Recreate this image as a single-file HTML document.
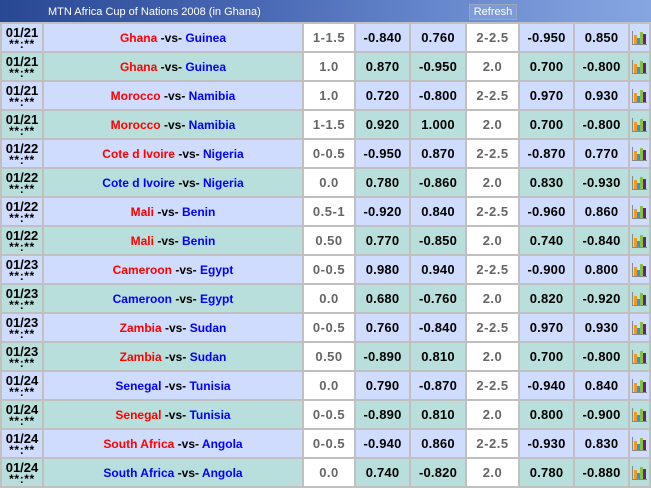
<!DOCTYPE html>
<html><head><meta charset="utf-8">
<style>
*{margin:0;padding:0;box-sizing:border-box}
html,body{width:651px;height:488px;overflow:hidden;background:#fff}
body{font-family:"Liberation Sans",Arial,sans-serif;position:relative}
#hd{position:absolute;left:0;top:0;width:651px;height:22px;background:linear-gradient(to right,#294893 0%,#4a69b5 40%,#6a8ace 70%,#86a6e2 100%)}
#hd .t{position:absolute;left:48px;top:6px;color:#fff;font-size:11px;line-height:13px;white-space:nowrap}
#hd .r{position:absolute;left:469px;top:4px;width:48px;height:16px;border:1px solid #9aa6bd;background:#7d9bd9;color:#fff;font-size:11px;line-height:15px;text-align:center}
table{position:absolute;left:0;top:22px;width:651px;border-collapse:separate;border-spacing:2px;background:#c0c0c0;table-layout:fixed}
td{height:27px;padding:0;text-align:center;vertical-align:middle;white-space:nowrap;overflow:hidden}
tr.a td{background:#cfdcfe}
tr.b td{background:#b9dfdd}
tr td.w{background:#fff;color:#666;font-size:13px;font-weight:bold;letter-spacing:0.5px}
td.d{font-weight:bold;font-size:13px;line-height:12px;color:#000;letter-spacing:0;padding-top:1px}
td.d span{display:block;letter-spacing:0.6px;font-size:12px;line-height:11px}
td.m{font-weight:bold;font-size:12px}
td.n{font-size:13px;color:#000;font-weight:bold;letter-spacing:0.2px}
.R{color:#f00}
.B{color:#00f}
.K{color:#000}
td.i svg{display:block;margin:0 auto}
</style></head><body>
<div id="hd"><div class="t">MTN Africa Cup of Nations 2008 (in Ghana)</div><div class="r">Refresh</div></div>
<table>
<colgroup><col style="width:40px"><col style="width:258px"><col style="width:50px"><col style="width:53px"><col style="width:54px"><col style="width:51px"><col style="width:53px"><col style="width:53px"><col style="width:19px"></colgroup>
<tr class="a"><td class="d">01/21<span>**:**</span></td><td class="m"><span class="R">Ghana</span> <span class="K">-vs-</span> <span class="B">Guinea</span></td><td class="w">1-1.5</td><td class="n R">-0.840</td><td class="n">0.760</td><td class="w">2-2.5</td><td class="n R">-0.950</td><td class="n">0.850</td><td class="i"><svg width="15" height="14"><path d="M0.5 0v13.5H15" stroke="#888" fill="none"/><rect x="2" y="4" width="3" height="9" fill="#f09a1a"/><rect x="5" y="7" width="3" height="6" fill="#3a8ee6"/><rect x="8" y="1" width="3" height="12" fill="#86c23c"/><rect x="11" y="3" width="3" height="10" fill="#6a1f7a"/></svg></td></tr>
<tr class="b"><td class="d">01/21<span>**:**</span></td><td class="m"><span class="R">Ghana</span> <span class="K">-vs-</span> <span class="B">Guinea</span></td><td class="w">1.0</td><td class="n">0.870</td><td class="n R">-0.950</td><td class="w">2.0</td><td class="n">0.700</td><td class="n R">-0.800</td><td class="i"><svg width="15" height="14"><path d="M0.5 0v13.5H15" stroke="#888" fill="none"/><rect x="2" y="4" width="3" height="9" fill="#f09a1a"/><rect x="5" y="7" width="3" height="6" fill="#3a8ee6"/><rect x="8" y="1" width="3" height="12" fill="#86c23c"/><rect x="11" y="3" width="3" height="10" fill="#6a1f7a"/></svg></td></tr>
<tr class="a"><td class="d">01/21<span>**:**</span></td><td class="m"><span class="R">Morocco</span> <span class="K">-vs-</span> <span class="B">Namibia</span></td><td class="w">1.0</td><td class="n">0.720</td><td class="n R">-0.800</td><td class="w">2-2.5</td><td class="n">0.970</td><td class="n">0.930</td><td class="i"><svg width="15" height="14"><path d="M0.5 0v13.5H15" stroke="#888" fill="none"/><rect x="2" y="4" width="3" height="9" fill="#f09a1a"/><rect x="5" y="7" width="3" height="6" fill="#3a8ee6"/><rect x="8" y="1" width="3" height="12" fill="#86c23c"/><rect x="11" y="3" width="3" height="10" fill="#6a1f7a"/></svg></td></tr>
<tr class="b"><td class="d">01/21<span>**:**</span></td><td class="m"><span class="R">Morocco</span> <span class="K">-vs-</span> <span class="B">Namibia</span></td><td class="w">1-1.5</td><td class="n">0.920</td><td class="n">1.000</td><td class="w">2.0</td><td class="n">0.700</td><td class="n R">-0.800</td><td class="i"><svg width="15" height="14"><path d="M0.5 0v13.5H15" stroke="#888" fill="none"/><rect x="2" y="4" width="3" height="9" fill="#f09a1a"/><rect x="5" y="7" width="3" height="6" fill="#3a8ee6"/><rect x="8" y="1" width="3" height="12" fill="#86c23c"/><rect x="11" y="3" width="3" height="10" fill="#6a1f7a"/></svg></td></tr>
<tr class="a"><td class="d">01/22<span>**:**</span></td><td class="m"><span class="R">Cote d Ivoire</span> <span class="K">-vs-</span> <span class="B">Nigeria</span></td><td class="w">0-0.5</td><td class="n R">-0.950</td><td class="n">0.870</td><td class="w">2-2.5</td><td class="n R">-0.870</td><td class="n">0.770</td><td class="i"><svg width="15" height="14"><path d="M0.5 0v13.5H15" stroke="#888" fill="none"/><rect x="2" y="4" width="3" height="9" fill="#f09a1a"/><rect x="5" y="7" width="3" height="6" fill="#3a8ee6"/><rect x="8" y="1" width="3" height="12" fill="#86c23c"/><rect x="11" y="3" width="3" height="10" fill="#6a1f7a"/></svg></td></tr>
<tr class="b"><td class="d">01/22<span>**:**</span></td><td class="m"><span class="B">Cote d Ivoire</span> <span class="K">-vs-</span> <span class="B">Nigeria</span></td><td class="w">0.0</td><td class="n">0.780</td><td class="n R">-0.860</td><td class="w">2.0</td><td class="n">0.830</td><td class="n R">-0.930</td><td class="i"><svg width="15" height="14"><path d="M0.5 0v13.5H15" stroke="#888" fill="none"/><rect x="2" y="4" width="3" height="9" fill="#f09a1a"/><rect x="5" y="7" width="3" height="6" fill="#3a8ee6"/><rect x="8" y="1" width="3" height="12" fill="#86c23c"/><rect x="11" y="3" width="3" height="10" fill="#6a1f7a"/></svg></td></tr>
<tr class="a"><td class="d">01/22<span>**:**</span></td><td class="m"><span class="R">Mali</span> <span class="K">-vs-</span> <span class="B">Benin</span></td><td class="w">0.5-1</td><td class="n R">-0.920</td><td class="n">0.840</td><td class="w">2-2.5</td><td class="n R">-0.960</td><td class="n">0.860</td><td class="i"><svg width="15" height="14"><path d="M0.5 0v13.5H15" stroke="#888" fill="none"/><rect x="2" y="4" width="3" height="9" fill="#f09a1a"/><rect x="5" y="7" width="3" height="6" fill="#3a8ee6"/><rect x="8" y="1" width="3" height="12" fill="#86c23c"/><rect x="11" y="3" width="3" height="10" fill="#6a1f7a"/></svg></td></tr>
<tr class="b"><td class="d">01/22<span>**:**</span></td><td class="m"><span class="R">Mali</span> <span class="K">-vs-</span> <span class="B">Benin</span></td><td class="w">0.50</td><td class="n">0.770</td><td class="n R">-0.850</td><td class="w">2.0</td><td class="n">0.740</td><td class="n R">-0.840</td><td class="i"><svg width="15" height="14"><path d="M0.5 0v13.5H15" stroke="#888" fill="none"/><rect x="2" y="4" width="3" height="9" fill="#f09a1a"/><rect x="5" y="7" width="3" height="6" fill="#3a8ee6"/><rect x="8" y="1" width="3" height="12" fill="#86c23c"/><rect x="11" y="3" width="3" height="10" fill="#6a1f7a"/></svg></td></tr>
<tr class="a"><td class="d">01/23<span>**:**</span></td><td class="m"><span class="R">Cameroon</span> <span class="K">-vs-</span> <span class="B">Egypt</span></td><td class="w">0-0.5</td><td class="n">0.980</td><td class="n">0.940</td><td class="w">2-2.5</td><td class="n R">-0.900</td><td class="n">0.800</td><td class="i"><svg width="15" height="14"><path d="M0.5 0v13.5H15" stroke="#888" fill="none"/><rect x="2" y="4" width="3" height="9" fill="#f09a1a"/><rect x="5" y="7" width="3" height="6" fill="#3a8ee6"/><rect x="8" y="1" width="3" height="12" fill="#86c23c"/><rect x="11" y="3" width="3" height="10" fill="#6a1f7a"/></svg></td></tr>
<tr class="b"><td class="d">01/23<span>**:**</span></td><td class="m"><span class="B">Cameroon</span> <span class="K">-vs-</span> <span class="B">Egypt</span></td><td class="w">0.0</td><td class="n">0.680</td><td class="n R">-0.760</td><td class="w">2.0</td><td class="n">0.820</td><td class="n R">-0.920</td><td class="i"><svg width="15" height="14"><path d="M0.5 0v13.5H15" stroke="#888" fill="none"/><rect x="2" y="4" width="3" height="9" fill="#f09a1a"/><rect x="5" y="7" width="3" height="6" fill="#3a8ee6"/><rect x="8" y="1" width="3" height="12" fill="#86c23c"/><rect x="11" y="3" width="3" height="10" fill="#6a1f7a"/></svg></td></tr>
<tr class="a"><td class="d">01/23<span>**:**</span></td><td class="m"><span class="R">Zambia</span> <span class="K">-vs-</span> <span class="B">Sudan</span></td><td class="w">0-0.5</td><td class="n">0.760</td><td class="n R">-0.840</td><td class="w">2-2.5</td><td class="n">0.970</td><td class="n">0.930</td><td class="i"><svg width="15" height="14"><path d="M0.5 0v13.5H15" stroke="#888" fill="none"/><rect x="2" y="4" width="3" height="9" fill="#f09a1a"/><rect x="5" y="7" width="3" height="6" fill="#3a8ee6"/><rect x="8" y="1" width="3" height="12" fill="#86c23c"/><rect x="11" y="3" width="3" height="10" fill="#6a1f7a"/></svg></td></tr>
<tr class="b"><td class="d">01/23<span>**:**</span></td><td class="m"><span class="R">Zambia</span> <span class="K">-vs-</span> <span class="B">Sudan</span></td><td class="w">0.50</td><td class="n R">-0.890</td><td class="n">0.810</td><td class="w">2.0</td><td class="n">0.700</td><td class="n R">-0.800</td><td class="i"><svg width="15" height="14"><path d="M0.5 0v13.5H15" stroke="#888" fill="none"/><rect x="2" y="4" width="3" height="9" fill="#f09a1a"/><rect x="5" y="7" width="3" height="6" fill="#3a8ee6"/><rect x="8" y="1" width="3" height="12" fill="#86c23c"/><rect x="11" y="3" width="3" height="10" fill="#6a1f7a"/></svg></td></tr>
<tr class="a"><td class="d">01/24<span>**:**</span></td><td class="m"><span class="B">Senegal</span> <span class="K">-vs-</span> <span class="B">Tunisia</span></td><td class="w">0.0</td><td class="n">0.790</td><td class="n R">-0.870</td><td class="w">2-2.5</td><td class="n R">-0.940</td><td class="n">0.840</td><td class="i"><svg width="15" height="14"><path d="M0.5 0v13.5H15" stroke="#888" fill="none"/><rect x="2" y="4" width="3" height="9" fill="#f09a1a"/><rect x="5" y="7" width="3" height="6" fill="#3a8ee6"/><rect x="8" y="1" width="3" height="12" fill="#86c23c"/><rect x="11" y="3" width="3" height="10" fill="#6a1f7a"/></svg></td></tr>
<tr class="b"><td class="d">01/24<span>**:**</span></td><td class="m"><span class="R">Senegal</span> <span class="K">-vs-</span> <span class="B">Tunisia</span></td><td class="w">0-0.5</td><td class="n R">-0.890</td><td class="n">0.810</td><td class="w">2.0</td><td class="n">0.800</td><td class="n R">-0.900</td><td class="i"><svg width="15" height="14"><path d="M0.5 0v13.5H15" stroke="#888" fill="none"/><rect x="2" y="4" width="3" height="9" fill="#f09a1a"/><rect x="5" y="7" width="3" height="6" fill="#3a8ee6"/><rect x="8" y="1" width="3" height="12" fill="#86c23c"/><rect x="11" y="3" width="3" height="10" fill="#6a1f7a"/></svg></td></tr>
<tr class="a"><td class="d">01/24<span>**:**</span></td><td class="m"><span class="R">South Africa</span> <span class="K">-vs-</span> <span class="B">Angola</span></td><td class="w">0-0.5</td><td class="n R">-0.940</td><td class="n">0.860</td><td class="w">2-2.5</td><td class="n R">-0.930</td><td class="n">0.830</td><td class="i"><svg width="15" height="14"><path d="M0.5 0v13.5H15" stroke="#888" fill="none"/><rect x="2" y="4" width="3" height="9" fill="#f09a1a"/><rect x="5" y="7" width="3" height="6" fill="#3a8ee6"/><rect x="8" y="1" width="3" height="12" fill="#86c23c"/><rect x="11" y="3" width="3" height="10" fill="#6a1f7a"/></svg></td></tr>
<tr class="b"><td class="d">01/24<span>**:**</span></td><td class="m"><span class="B">South Africa</span> <span class="K">-vs-</span> <span class="B">Angola</span></td><td class="w">0.0</td><td class="n">0.740</td><td class="n R">-0.820</td><td class="w">2.0</td><td class="n">0.780</td><td class="n R">-0.880</td><td class="i"><svg width="15" height="14"><path d="M0.5 0v13.5H15" stroke="#888" fill="none"/><rect x="2" y="4" width="3" height="9" fill="#f09a1a"/><rect x="5" y="7" width="3" height="6" fill="#3a8ee6"/><rect x="8" y="1" width="3" height="12" fill="#86c23c"/><rect x="11" y="3" width="3" height="10" fill="#6a1f7a"/></svg></td></tr>
</table>
</body></html>
